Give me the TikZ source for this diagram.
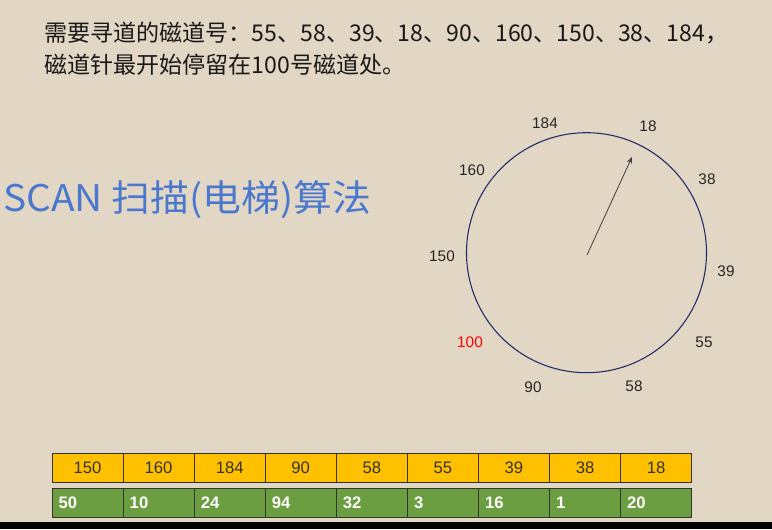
\documentclass[tikz,border=0pt]{standalone}
\usepackage{fontspec}
\setmainfont{Liberation Sans}
\newfontfamily\cjk{Noto Sans CJK SC}
\usetikzlibrary{arrows.meta}
\definecolor{paper}{HTML}{E1D7C4}
\definecolor{diskblue}{HTML}{1F2A6B}
\definecolor{titleblue}{HTML}{4A78CF}
\definecolor{gold}{HTML}{FFC000}
\definecolor{grass}{HTML}{6B9E40}
\tikzset{
  track/.style={inner sep=0pt, font=\fontsize{11.5pt}{13pt}\selectfont, text=black!85},
  goldcell/.style={draw=black!80, fill=gold, line width=0.7pt, minimum width=53.3pt,
    minimum height=21.75pt, inner sep=0pt, font=\fontsize{12.5pt}{14pt}\selectfont, text=black!80},
  grasscell/.style={draw=black!80, fill=grass, line width=0.7pt, text width=43.3pt,
    inner xsep=5pt, align=left, minimum height=22pt, inner ysep=0pt,
    font=\fontsize{12.5pt}{14pt}\selectfont\bfseries, text=white}
}
\begin{document}
\begin{tikzpicture}[x=0.75pt,y=-0.75pt]
  \fill[paper] (0,0) rectangle (772,529);
  \useasboundingbox (0,0) rectangle (772,529);

  % question
  \node[anchor=west, inner sep=0pt, font=\cjk\fontsize{17.3pt}{20pt}\selectfont, text=black!90]
    (ask) at (44,33) {需要寻道的磁道号：55、58、39、18、90、160、150、38、184，};
  \node[anchor=west, inner sep=0pt, font=\cjk\fontsize{17.3pt}{20pt}\selectfont, text=black!90]
    (start) at (44,65) {磁道针最开始停留在100号磁道处。};

  % title
  \node[anchor=west, inner sep=0pt, xscale=1.06, font=\cjk\fontsize{27.5pt}{30pt}\selectfont, text=titleblue]
    (title) at (3,200) {SCAN 扫描(电梯)算法};

  % disk
  \node[circle, draw=diskblue, line width=0.8pt, minimum size=180pt, inner sep=0pt]
    (disk) at (586.5,252.7) {};
  \coordinate (hub) at (587,255);
  \coordinate (tip) at (632,157);
  \draw[black!75, line width=0.6pt, -{Stealth[length=5pt,width=4pt]}] (hub) -- (tip);

  \foreach \v/\x/\y in {184/545/123, 18/648/126, 160/472/170, 38/707/179,
                        150/442/256, 39/726/271, 55/704/342, 90/533/387, 58/634/386}
    \node[track] (t\v) at (\x,\y) {\v};
  \node[track, text=red] (t100) at (470,342) {100};

  % order and distances
  \foreach \v [count=\i] in {150,160,184,90,58,55,39,38,18}
    \node[goldcell] (g\i) at ({52+71.07*(\i-0.5)},468) {\v};
  \foreach \d [count=\i] in {50,10,24,94,32,3,16,1,20}
    \node[grasscell] (d\i) at ({52+71.07*(\i-0.5)},503) {\d};

  \fill[black] (0,522) rectangle (772,529);
\end{tikzpicture}
\end{document}
